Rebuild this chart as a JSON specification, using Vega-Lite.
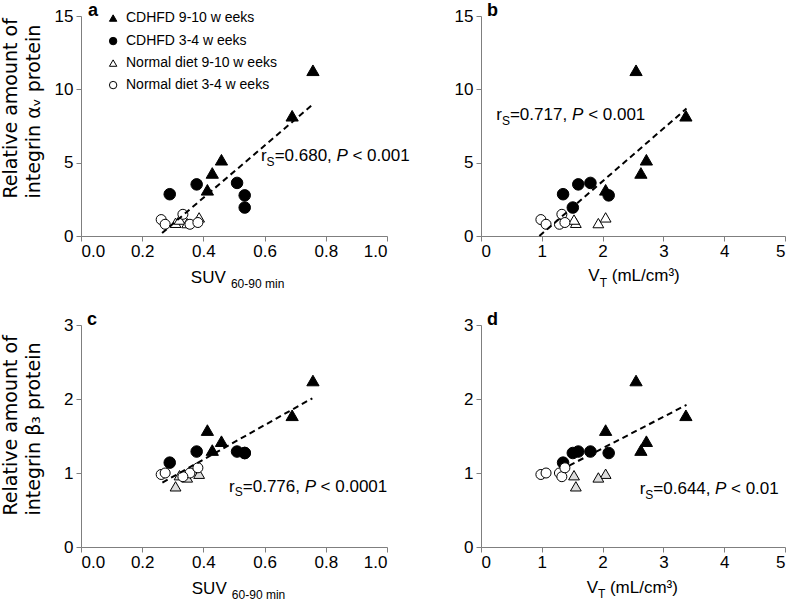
{
  "$schema": "https://vega.github.io/schema/vega-lite/v6.json",
  "padding": {"left": 0, "top": 2, "right": 0, "bottom": 0},
  "config": {
    "font": "Liberation Sans",
    "view": {"stroke": null},
    "axis": {"domainColor": "#7f7f7f", "tickColor": "#7f7f7f", "labelColor": "black", "labelFontSize": 17, "labelFont": "Liberation Sans", "tickSize": 5, "grid": false, "labelPadding": 2, "titleColor": "black", "titleFontSize": 19, "titleFontWeight": "normal", "titleFont": "DejaVu Sans"},
    "axisY": {"labelPadding": 3, "titleAngle": 270, "titleAlign": "left", "titleBaseline": "top", "titleX": -80, "titleY": 185, "titleLineHeight": 23},
    "text": {"font": "Liberation Sans", "color": "black"}
  },
  "datasets": {
    "pts": [
      {"panel": "a", "group": "CDHFD 9-10 w eeks", "x": 0.758, "y": 11.3},
      {"panel": "a", "group": "CDHFD 9-10 w eeks", "x": 0.690, "y": 8.2},
      {"panel": "a", "group": "CDHFD 9-10 w eeks", "x": 0.459, "y": 5.2},
      {"panel": "a", "group": "CDHFD 9-10 w eeks", "x": 0.429, "y": 4.3},
      {"panel": "a", "group": "CDHFD 9-10 w eeks", "x": 0.413, "y": 3.15},
      {"panel": "a", "group": "CDHFD 3-4 w eeks", "x": 0.290, "y": 2.85},
      {"panel": "a", "group": "CDHFD 3-4 w eeks", "x": 0.378, "y": 3.52},
      {"panel": "a", "group": "CDHFD 3-4 w eeks", "x": 0.510, "y": 3.62},
      {"panel": "a", "group": "CDHFD 3-4 w eeks", "x": 0.535, "y": 2.77},
      {"panel": "a", "group": "CDHFD 3-4 w eeks", "x": 0.535, "y": 1.94},
      {"panel": "a", "group": "Normal diet 9-10 w eeks", "x": 0.309, "y": 0.90},
      {"panel": "a", "group": "Normal diet 9-10 w eeks", "x": 0.386, "y": 1.27},
      {"panel": "a", "group": "Normal diet 9-10 w eeks", "x": 0.322, "y": 1.12},
      {"panel": "a", "group": "Normal diet 9-10 w eeks", "x": 0.347, "y": 0.88},
      {"panel": "a", "group": "Normal diet 3-4 w eeks", "x": 0.262, "y": 1.12},
      {"panel": "a", "group": "Normal diet 3-4 w eeks", "x": 0.275, "y": 0.80},
      {"panel": "a", "group": "Normal diet 3-4 w eeks", "x": 0.356, "y": 0.80},
      {"panel": "a", "group": "Normal diet 3-4 w eeks", "x": 0.333, "y": 1.48},
      {"panel": "a", "group": "Normal diet 3-4 w eeks", "x": 0.382, "y": 0.92},
      {"panel": "b", "group": "CDHFD 9-10 w eeks", "x": 2.55, "y": 11.3},
      {"panel": "b", "group": "CDHFD 9-10 w eeks", "x": 3.37, "y": 8.2},
      {"panel": "b", "group": "CDHFD 9-10 w eeks", "x": 2.72, "y": 5.2},
      {"panel": "b", "group": "CDHFD 9-10 w eeks", "x": 2.63, "y": 4.3},
      {"panel": "b", "group": "CDHFD 9-10 w eeks", "x": 2.05, "y": 3.15},
      {"panel": "b", "group": "CDHFD 3-4 w eeks", "x": 1.35, "y": 2.85},
      {"panel": "b", "group": "CDHFD 3-4 w eeks", "x": 1.60, "y": 3.52},
      {"panel": "b", "group": "CDHFD 3-4 w eeks", "x": 1.80, "y": 3.62},
      {"panel": "b", "group": "CDHFD 3-4 w eeks", "x": 2.10, "y": 2.77},
      {"panel": "b", "group": "CDHFD 3-4 w eeks", "x": 1.51, "y": 1.94},
      {"panel": "b", "group": "Normal diet 9-10 w eeks", "x": 1.56, "y": 0.90},
      {"panel": "b", "group": "Normal diet 9-10 w eeks", "x": 2.05, "y": 1.27},
      {"panel": "b", "group": "Normal diet 9-10 w eeks", "x": 1.53, "y": 1.12},
      {"panel": "b", "group": "Normal diet 9-10 w eeks", "x": 1.93, "y": 0.88},
      {"panel": "b", "group": "Normal diet 3-4 w eeks", "x": 0.985, "y": 1.12},
      {"panel": "b", "group": "Normal diet 3-4 w eeks", "x": 1.07, "y": 0.80},
      {"panel": "b", "group": "Normal diet 3-4 w eeks", "x": 1.29, "y": 0.80},
      {"panel": "b", "group": "Normal diet 3-4 w eeks", "x": 1.33, "y": 1.48},
      {"panel": "b", "group": "Normal diet 3-4 w eeks", "x": 1.38, "y": 0.92},
      {"panel": "c", "group": "CDHFD 9-10 w eeks", "x": 0.758, "y": 2.25},
      {"panel": "c", "group": "CDHFD 9-10 w eeks", "x": 0.690, "y": 1.78},
      {"panel": "c", "group": "CDHFD 9-10 w eeks", "x": 0.459, "y": 1.43},
      {"panel": "c", "group": "CDHFD 9-10 w eeks", "x": 0.429, "y": 1.31},
      {"panel": "c", "group": "CDHFD 9-10 w eeks", "x": 0.413, "y": 1.58},
      {"panel": "c", "group": "CDHFD 3-4 w eeks", "x": 0.290, "y": 1.14},
      {"panel": "c", "group": "CDHFD 3-4 w eeks", "x": 0.378, "y": 1.29},
      {"panel": "c", "group": "CDHFD 3-4 w eeks", "x": 0.510, "y": 1.29},
      {"panel": "c", "group": "CDHFD 3-4 w eeks", "x": 0.535, "y": 1.27},
      {"panel": "c", "group": "CDHFD 3-4 w eeks", "x": 0.535, "y": 1.27},
      {"panel": "c", "group": "Normal diet 9-10 w eeks", "x": 0.309, "y": 0.82},
      {"panel": "c", "group": "Normal diet 9-10 w eeks", "x": 0.386, "y": 0.99},
      {"panel": "c", "group": "Normal diet 9-10 w eeks", "x": 0.322, "y": 0.97},
      {"panel": "c", "group": "Normal diet 9-10 w eeks", "x": 0.347, "y": 0.94},
      {"panel": "c", "group": "Normal diet 3-4 w eeks", "x": 0.262, "y": 0.98},
      {"panel": "c", "group": "Normal diet 3-4 w eeks", "x": 0.275, "y": 1.0},
      {"panel": "c", "group": "Normal diet 3-4 w eeks", "x": 0.356, "y": 1.0},
      {"panel": "c", "group": "Normal diet 3-4 w eeks", "x": 0.333, "y": 0.95},
      {"panel": "c", "group": "Normal diet 3-4 w eeks", "x": 0.382, "y": 1.07},
      {"panel": "d", "group": "CDHFD 9-10 w eeks", "x": 2.55, "y": 2.25},
      {"panel": "d", "group": "CDHFD 9-10 w eeks", "x": 3.37, "y": 1.78},
      {"panel": "d", "group": "CDHFD 9-10 w eeks", "x": 2.72, "y": 1.43},
      {"panel": "d", "group": "CDHFD 9-10 w eeks", "x": 2.63, "y": 1.31},
      {"panel": "d", "group": "CDHFD 9-10 w eeks", "x": 2.05, "y": 1.58},
      {"panel": "d", "group": "CDHFD 3-4 w eeks", "x": 1.35, "y": 1.14},
      {"panel": "d", "group": "CDHFD 3-4 w eeks", "x": 1.60, "y": 1.29},
      {"panel": "d", "group": "CDHFD 3-4 w eeks", "x": 1.80, "y": 1.29},
      {"panel": "d", "group": "CDHFD 3-4 w eeks", "x": 2.10, "y": 1.27},
      {"panel": "d", "group": "CDHFD 3-4 w eeks", "x": 1.51, "y": 1.27},
      {"panel": "d", "group": "Normal diet 9-10 w eeks", "x": 1.56, "y": 0.82},
      {"panel": "d", "group": "Normal diet 9-10 w eeks", "x": 2.05, "y": 0.99},
      {"panel": "d", "group": "Normal diet 9-10 w eeks", "x": 1.53, "y": 0.97},
      {"panel": "d", "group": "Normal diet 9-10 w eeks", "x": 1.93, "y": 0.94},
      {"panel": "d", "group": "Normal diet 3-4 w eeks", "x": 0.985, "y": 0.98},
      {"panel": "d", "group": "Normal diet 3-4 w eeks", "x": 1.07, "y": 1.0},
      {"panel": "d", "group": "Normal diet 3-4 w eeks", "x": 1.29, "y": 1.0},
      {"panel": "d", "group": "Normal diet 3-4 w eeks", "x": 1.33, "y": 0.95},
      {"panel": "d", "group": "Normal diet 3-4 w eeks", "x": 1.38, "y": 1.07}
    ],
    "key": [
      {"group": "CDHFD 9-10 w eeks", "x": 0.105, "tx": 0.147, "y": 14.86},
      {"group": "CDHFD 3-4 w eeks", "x": 0.105, "tx": 0.147, "y": 13.29},
      {"group": "Normal diet 9-10 w eeks", "x": 0.105, "tx": 0.147, "y": 11.79},
      {"group": "Normal diet 3-4 w eeks", "x": 0.105, "tx": 0.147, "y": 10.29}
    ],
    "fits": [
      {"panel": "a", "x": 0.265, "y": 0.2},
      {"panel": "a", "x": 0.758, "y": 8.98},
      {"panel": "b", "x": 0.96, "y": 0.0},
      {"panel": "b", "x": 3.38, "y": 8.69},
      {"panel": "c", "x": 0.266, "y": 0.87},
      {"panel": "c", "x": 0.756, "y": 2.01},
      {"panel": "d", "x": 1.45, "y": 1.10},
      {"panel": "d", "x": 3.38, "y": 1.92}
    ],
    "notes": [
      {"panel": "a", "role": "label", "x": 0.023, "y": 15, "text": "a"},
      {"panel": "a", "role": "main", "x": 0.588, "y": 5.1, "text": "r"},
      {"panel": "a", "role": "sub", "x": 0.6066, "y": 4.76, "text": "S"},
      {"panel": "a", "role": "main", "x": 0.6328, "y": 5.1, "text": "=0.680,"},
      {"panel": "a", "role": "ital", "x": 0.835, "y": 5.1, "text": "P"},
      {"panel": "a", "role": "main", "x": 0.887, "y": 5.1, "text": "< 0.001"},
      {"panel": "a", "role": "main", "x": 0.359, "y": -3.2, "text": "SUV"},
      {"panel": "a", "role": "sub", "x": 0.49, "y": -3.55, "text": "60-90 min"},
      {"panel": "b", "role": "label", "x": 0.1, "y": 15, "text": "b"},
      {"panel": "b", "role": "main", "x": 0.25, "y": 7.94, "text": "r"},
      {"panel": "b", "role": "sub", "x": 0.344, "y": 7.6, "text": "S"},
      {"panel": "b", "role": "main", "x": 0.476, "y": 7.94, "text": "=0.717,"},
      {"panel": "b", "role": "ital", "x": 1.4975, "y": 7.94, "text": "P"},
      {"panel": "b", "role": "main", "x": 1.762, "y": 7.94, "text": "< 0.001"},
      {"panel": "b", "role": "main", "x": 1.766, "y": -3.1, "text": "V"},
      {"panel": "b", "role": "sub", "x": 1.952, "y": -3.45, "text": "T"},
      {"panel": "b", "role": "main", "x": 2.15, "y": -3.1, "text": "(mL/cm³)"},
      {"panel": "c", "role": "label", "x": 0.02, "y": 3, "text": "c"},
      {"panel": "c", "role": "main", "x": 0.484, "y": 0.75, "text": "r"},
      {"panel": "c", "role": "sub", "x": 0.5026, "y": 0.683, "text": "S"},
      {"panel": "c", "role": "main", "x": 0.5288, "y": 0.75, "text": "=0.776,"},
      {"panel": "c", "role": "ital", "x": 0.731, "y": 0.75, "text": "P"},
      {"panel": "c", "role": "main", "x": 0.783, "y": 0.75, "text": "< 0.0001"},
      {"panel": "c", "role": "main", "x": 0.362, "y": -0.635, "text": "SUV"},
      {"panel": "c", "role": "sub", "x": 0.493, "y": -0.705, "text": "60-90 min"},
      {"panel": "d", "role": "label", "x": 0.1, "y": 3, "text": "d"},
      {"panel": "d", "role": "main", "x": 2.61, "y": 0.71, "text": "r"},
      {"panel": "d", "role": "sub", "x": 2.7034, "y": 0.642, "text": "S"},
      {"panel": "d", "role": "main", "x": 2.8346, "y": 0.71, "text": "=0.644,"},
      {"panel": "d", "role": "ital", "x": 3.849, "y": 0.71, "text": "P"},
      {"panel": "d", "role": "main", "x": 4.112, "y": 0.71, "text": "< 0.01"},
      {"panel": "d", "role": "main", "x": 1.738, "y": -0.62, "text": "V"},
      {"panel": "d", "role": "sub", "x": 1.923, "y": -0.69, "text": "T"},
      {"panel": "d", "role": "main", "x": 2.12, "y": -0.62, "text": "(mL/cm³)"}
    ]
  },
  "columns": 2,
  "bounds": "flush",
  "spacing": {"row": 89, "column": 94},
  "resolve": {"scale": {"shape": "independent", "fill": "independent", "size": "independent"}},
  "concat": [
    {
      "width": 306, "height": 220,
      "encoding": {
        "x": {"field": "x", "type": "quantitative", "scale": {"domain": [0, 1]}, "axis": {"values": [0, 0.2, 0.4, 0.6, 0.8, 1], "format": ".1f", "title": null}},
        "y": {"field": "y", "type": "quantitative", "scale": {"domain": [0, 15]}, "axis": {"values": [0, 5, 10, 15], "title": ["Relative amount of", "integrin αᵥ protein"], "titleY": 182}}
      },
      "layer": [
        {
          "data": {"name": "pts"},
          "transform": [{"filter": "datum.panel === 'a'"}],
          "mark": {"type": "point", "filled": true, "stroke": "black", "strokeWidth": 1, "opacity": 1},
          "encoding": {
            "shape": {"field": "group", "type": "nominal", "scale": {"domain": ["CDHFD 9-10 w eeks", "CDHFD 3-4 w eeks", "Normal diet 9-10 w eeks", "Normal diet 3-4 w eeks"], "range": ["triangle-up", "circle", "triangle-up", "circle"]}, "legend": null},
            "fill": {"field": "group", "type": "nominal", "scale": {"domain": ["CDHFD 9-10 w eeks", "CDHFD 3-4 w eeks", "Normal diet 9-10 w eeks", "Normal diet 3-4 w eeks"], "range": ["black", "black", "white", "white"]}, "legend": null},
            "size": {"field": "group", "type": "ordinal", "scale": {"domain": ["CDHFD 9-10 w eeks", "CDHFD 3-4 w eeks", "Normal diet 9-10 w eeks", "Normal diet 3-4 w eeks"], "range": [150, 100, 150, 100]}, "legend": null}
          }
        },
        {
          "data": {"name": "key"},
          "mark": {"type": "point", "filled": true, "stroke": "black", "strokeWidth": 1, "opacity": 1, "size": 55},
          "encoding": {
            "shape": {"field": "group", "type": "nominal", "legend": null},
            "fill": {"field": "group", "type": "nominal", "legend": null}
          }
        },
        {
          "data": {"name": "key"},
          "mark": {"type": "text", "align": "left", "baseline": "middle", "fontSize": 14},
          "encoding": {
            "x": {"field": "tx", "type": "quantitative"},
            "text": {"field": "group"}
          }
        },
        {
          "data": {"name": "fits"},
          "transform": [{"filter": "datum.panel === 'a'"}],
          "mark": {"type": "line", "strokeDash": [6, 4], "strokeWidth": 2, "color": "black"},
          "encoding": {}
        },
        {
          "data": {"name": "notes"},
          "transform": [{"filter": "datum.panel === 'a'"}],
          "encoding": {"text": {"field": "text"}},
          "layer": [
            {"transform": [{"filter": "datum.role === 'label'"}], "mark": {"type": "text", "align": "left", "baseline": "alphabetic", "fontSize": 18, "fontWeight": "bold"}},
            {"transform": [{"filter": "datum.role === 'main'"}], "mark": {"type": "text", "align": "left", "baseline": "alphabetic", "fontSize": 17}},
            {"transform": [{"filter": "datum.role === 'sub'"}], "mark": {"type": "text", "align": "left", "baseline": "alphabetic", "fontSize": 12}},
            {"transform": [{"filter": "datum.role === 'ital'"}], "mark": {"type": "text", "align": "left", "baseline": "alphabetic", "fontSize": 17, "fontStyle": "italic"}}
          ]
        }
      ]
    },
    {
      "width": 304, "height": 220,
      "encoding": {
        "x": {"field": "x", "type": "quantitative", "scale": {"domain": [0, 5]}, "axis": {"values": [0, 1, 2, 3, 4, 5], "title": null}},
        "y": {"field": "y", "type": "quantitative", "scale": {"domain": [0, 15]}, "axis": {"values": [0, 5, 10, 15], "title": null}}
      },
      "layer": [
        {
          "data": {"name": "pts"},
          "transform": [{"filter": "datum.panel === 'b'"}],
          "mark": {"type": "point", "filled": true, "stroke": "black", "strokeWidth": 1, "opacity": 1},
          "encoding": {
            "shape": {"field": "group", "type": "nominal", "scale": {"domain": ["CDHFD 9-10 w eeks", "CDHFD 3-4 w eeks", "Normal diet 9-10 w eeks", "Normal diet 3-4 w eeks"], "range": ["triangle-up", "circle", "triangle-up", "circle"]}, "legend": null},
            "fill": {"field": "group", "type": "nominal", "scale": {"domain": ["CDHFD 9-10 w eeks", "CDHFD 3-4 w eeks", "Normal diet 9-10 w eeks", "Normal diet 3-4 w eeks"], "range": ["black", "black", "white", "white"]}, "legend": null},
            "size": {"field": "group", "type": "ordinal", "scale": {"domain": ["CDHFD 9-10 w eeks", "CDHFD 3-4 w eeks", "Normal diet 9-10 w eeks", "Normal diet 3-4 w eeks"], "range": [150, 100, 150, 100]}, "legend": null}
          }
        },
        {
          "data": {"name": "fits"},
          "transform": [{"filter": "datum.panel === 'b'"}],
          "mark": {"type": "line", "strokeDash": [6, 4], "strokeWidth": 2, "color": "black"},
          "encoding": {}
        },
        {
          "data": {"name": "notes"},
          "transform": [{"filter": "datum.panel === 'b'"}],
          "encoding": {"text": {"field": "text"}},
          "layer": [
            {"transform": [{"filter": "datum.role === 'label'"}], "mark": {"type": "text", "align": "left", "baseline": "alphabetic", "fontSize": 18, "fontWeight": "bold"}},
            {"transform": [{"filter": "datum.role === 'main'"}], "mark": {"type": "text", "align": "left", "baseline": "alphabetic", "fontSize": 17}},
            {"transform": [{"filter": "datum.role === 'sub'"}], "mark": {"type": "text", "align": "left", "baseline": "alphabetic", "fontSize": 12}},
            {"transform": [{"filter": "datum.role === 'ital'"}], "mark": {"type": "text", "align": "left", "baseline": "alphabetic", "fontSize": 17, "fontStyle": "italic"}}
          ]
        }
      ]
    },
    {
      "width": 306, "height": 222,
      "encoding": {
        "x": {"field": "x", "type": "quantitative", "scale": {"domain": [0, 1]}, "axis": {"values": [0, 0.2, 0.4, 0.6, 0.8, 1], "format": ".1f", "title": null}},
        "y": {"field": "y", "type": "quantitative", "scale": {"domain": [0, 3]}, "axis": {"values": [0, 1, 2, 3], "title": ["Relative amount of", "integrin β₃ protein"], "titleY": 190}}
      },
      "layer": [
        {
          "data": {"name": "pts"},
          "transform": [{"filter": "datum.panel === 'c'"}],
          "mark": {"type": "point", "filled": true, "stroke": "black", "strokeWidth": 1, "opacity": 1},
          "encoding": {
            "shape": {"field": "group", "type": "nominal", "scale": {"domain": ["CDHFD 9-10 w eeks", "CDHFD 3-4 w eeks", "Normal diet 9-10 w eeks", "Normal diet 3-4 w eeks"], "range": ["triangle-up", "circle", "triangle-up", "circle"]}, "legend": null},
            "fill": {"field": "group", "type": "nominal", "scale": {"domain": ["CDHFD 9-10 w eeks", "CDHFD 3-4 w eeks", "Normal diet 9-10 w eeks", "Normal diet 3-4 w eeks"], "range": ["black", "black", "#dddddd", "white"]}, "legend": null},
            "size": {"field": "group", "type": "ordinal", "scale": {"domain": ["CDHFD 9-10 w eeks", "CDHFD 3-4 w eeks", "Normal diet 9-10 w eeks", "Normal diet 3-4 w eeks"], "range": [150, 100, 150, 100]}, "legend": null}
          }
        },
        {
          "data": {"name": "fits"},
          "transform": [{"filter": "datum.panel === 'c'"}],
          "mark": {"type": "line", "strokeDash": [6, 4], "strokeWidth": 2, "color": "black"},
          "encoding": {}
        },
        {
          "data": {"name": "notes"},
          "transform": [{"filter": "datum.panel === 'c'"}],
          "encoding": {"text": {"field": "text"}},
          "layer": [
            {"transform": [{"filter": "datum.role === 'label'"}], "mark": {"type": "text", "align": "left", "baseline": "alphabetic", "fontSize": 18, "fontWeight": "bold"}},
            {"transform": [{"filter": "datum.role === 'main'"}], "mark": {"type": "text", "align": "left", "baseline": "alphabetic", "fontSize": 17}},
            {"transform": [{"filter": "datum.role === 'sub'"}], "mark": {"type": "text", "align": "left", "baseline": "alphabetic", "fontSize": 12}},
            {"transform": [{"filter": "datum.role === 'ital'"}], "mark": {"type": "text", "align": "left", "baseline": "alphabetic", "fontSize": 17, "fontStyle": "italic"}}
          ]
        }
      ]
    },
    {
      "width": 304, "height": 222,
      "encoding": {
        "x": {"field": "x", "type": "quantitative", "scale": {"domain": [0, 5]}, "axis": {"values": [0, 1, 2, 3, 4, 5], "title": null}},
        "y": {"field": "y", "type": "quantitative", "scale": {"domain": [0, 3]}, "axis": {"values": [0, 1, 2, 3], "title": null}}
      },
      "layer": [
        {
          "data": {"name": "pts"},
          "transform": [{"filter": "datum.panel === 'd'"}],
          "mark": {"type": "point", "filled": true, "stroke": "black", "strokeWidth": 1, "opacity": 1},
          "encoding": {
            "shape": {"field": "group", "type": "nominal", "scale": {"domain": ["CDHFD 9-10 w eeks", "CDHFD 3-4 w eeks", "Normal diet 9-10 w eeks", "Normal diet 3-4 w eeks"], "range": ["triangle-up", "circle", "triangle-up", "circle"]}, "legend": null},
            "fill": {"field": "group", "type": "nominal", "scale": {"domain": ["CDHFD 9-10 w eeks", "CDHFD 3-4 w eeks", "Normal diet 9-10 w eeks", "Normal diet 3-4 w eeks"], "range": ["black", "black", "#dddddd", "white"]}, "legend": null},
            "size": {"field": "group", "type": "ordinal", "scale": {"domain": ["CDHFD 9-10 w eeks", "CDHFD 3-4 w eeks", "Normal diet 9-10 w eeks", "Normal diet 3-4 w eeks"], "range": [150, 100, 150, 100]}, "legend": null}
          }
        },
        {
          "data": {"name": "fits"},
          "transform": [{"filter": "datum.panel === 'd'"}],
          "mark": {"type": "line", "strokeDash": [6, 4], "strokeWidth": 2, "color": "black"},
          "encoding": {}
        },
        {
          "data": {"name": "notes"},
          "transform": [{"filter": "datum.panel === 'd'"}],
          "encoding": {"text": {"field": "text"}},
          "layer": [
            {"transform": [{"filter": "datum.role === 'label'"}], "mark": {"type": "text", "align": "left", "baseline": "alphabetic", "fontSize": 18, "fontWeight": "bold"}},
            {"transform": [{"filter": "datum.role === 'main'"}], "mark": {"type": "text", "align": "left", "baseline": "alphabetic", "fontSize": 17}},
            {"transform": [{"filter": "datum.role === 'sub'"}], "mark": {"type": "text", "align": "left", "baseline": "alphabetic", "fontSize": 12}},
            {"transform": [{"filter": "datum.role === 'ital'"}], "mark": {"type": "text", "align": "left", "baseline": "alphabetic", "fontSize": 17, "fontStyle": "italic"}}
          ]
        }
      ]
    }
  ]
}
